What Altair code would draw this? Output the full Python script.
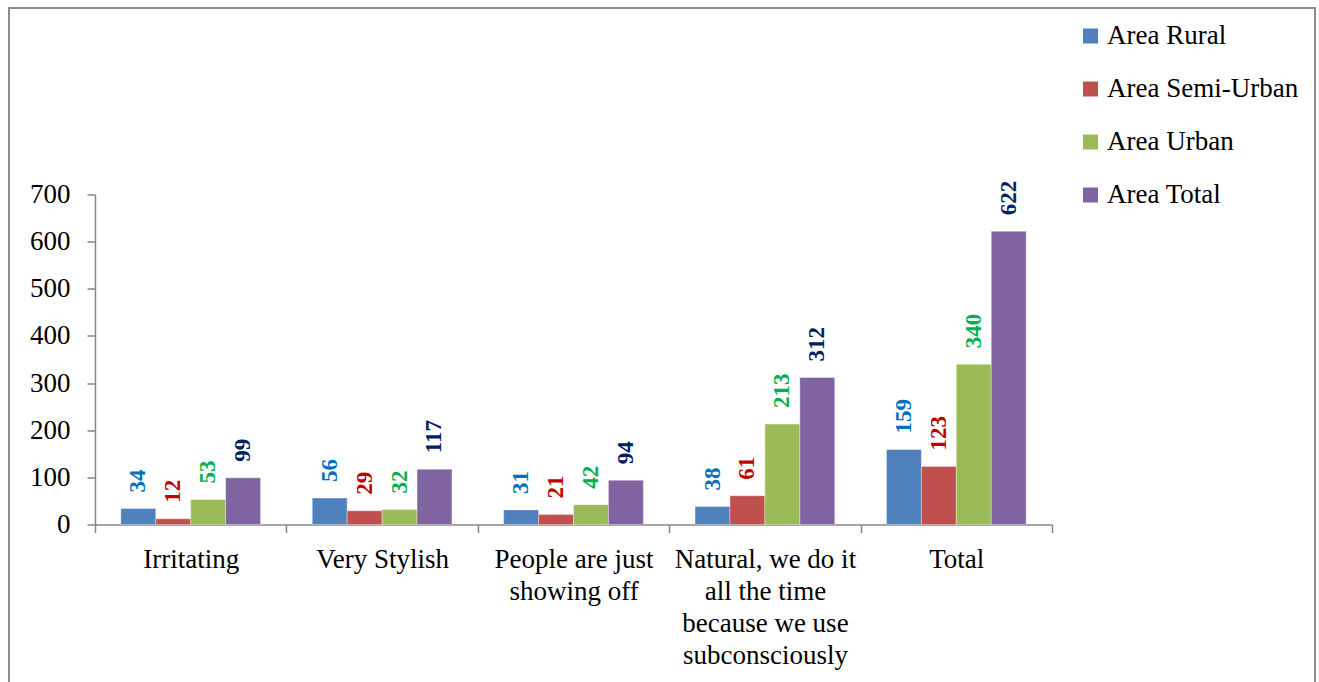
import altair as alt
import pandas as pd

# Response categories (line breaks mark the wrapped axis labels)
categories = [
    "Irritating",
    "Very Stylish",
    "People are just\nshowing off",
    "Natural, we do it\nall the time\nbecause we use\nsubconsciously",
    "Total",
]
series = ["Area Rural", "Area Semi-Urban", "Area Urban", "Area Total"]

rural = [34, 56, 31, 38, 159]
semi_urban = [12, 29, 21, 61, 123]
urban = [53, 32, 42, 213, 340]
total = [99, 117, 94, 312, 622]

bar_colors = ["#4F81BD", "#C0504D", "#9BBB59", "#8064A2"]
label_colors = ["#0070C0", "#C00000", "#00B050", "#002060"]

rows = []
for name, vals, lc in zip(series, [rural, semi_urban, urban, total], label_colors):
    for cat, v in zip(categories, vals):
        rows.append({"category": cat, "series": name, "value": v, "labelColor": lc})
df = pd.DataFrame(rows)

FONT = "Liberation Serif"
W, H = 957, 330
PAD_L, PAD_T = 95, 194.5
TOTAL_W, TOTAL_H = 1319, 682

x_enc = alt.X(
    "category:N",
    sort=categories,
    scale=alt.Scale(paddingInner=0, paddingOuter=0),
    axis=alt.Axis(
        title=None,
        labelAngle=0,
        labelExpr="isValid(datum.value) ? split(datum.value, '\\n') : ''",
        labelFont=FONT,
        labelFontSize=27,
        labelColor="#000000",
        labelLineHeight=32,
        labelBaseline="top",
        labelPadding=14,
        labelLimit=0,
        tickBand="extent",
        tickSize=8,
        tickColor="#868686",
        tickWidth=1.5,
        domainColor="#868686",
        domainWidth=1.5,
        grid=False,
    ),
)
xoff_enc = alt.XOffset(
    "series:N", sort=series, scale=alt.Scale(paddingOuter=0.74, paddingInner=0)
)
y_enc = alt.Y(
    "value:Q",
    scale=alt.Scale(domain=[0, 700], nice=False),
    axis=alt.Axis(
        title=None,
        values=[0, 100, 200, 300, 400, 500, 600, 700],
        labelFont=FONT,
        labelFontSize=27,
        labelColor="#000000",
        labelPadding=17,
        tickSize=8,
        tickColor="#868686",
        tickWidth=1.5,
        domainColor="#868686",
        domainWidth=1.5,
        grid=False,
    ),
)

base = alt.Chart(df)

bars = base.mark_bar(stroke="#FFFFFF", strokeWidth=0.6, strokeOpacity=0.6).encode(
    x=x_enc,
    xOffset=xoff_enc,
    y=y_enc,
    color=alt.Color(
        "series:N",
        sort=series,
        scale=alt.Scale(domain=series, range=bar_colors),
        legend=alt.Legend(
            title=None,
            orient="none",
            legendX=982,
            legendY=-172,
            symbolType="square",
            symbolSize=225,
            symbolStrokeWidth=0,
            labelFont=FONT,
            labelFontSize=27,
            labelColor="#000000",
            labelOffset=3,
            labelLimit=400,
            rowPadding=25,
            padding=0,
        ),
    ),
)

labels = base.mark_text(
    angle=270,
    align="left",
    baseline="middle",
    dx=16,
    font=FONT,
    fontSize=23,
    fontWeight="bold",
).encode(
    x=alt.X("category:N", sort=categories),
    xOffset=alt.XOffset("series:N", sort=series),
    y=alt.Y("value:Q"),
    text=alt.Text("value:Q"),
    color=alt.Color("labelColor:N", scale=None, legend=None),
)

# Outer frame around the whole figure
frame = alt.Chart(pd.DataFrame({"k": [0]})).mark_rect(
    filled=False, stroke="#8C8C8C", strokeWidth=2
).encode(
    x=alt.value(9 - PAD_L),
    x2=alt.value(1315 - PAD_L),
    y=alt.value(8 - PAD_T),
    y2=alt.value(TOTAL_H + 20 - PAD_T),
)

chart = (
    alt.layer(frame, bars, labels)
    .resolve_scale(color="independent")
    .properties(
        width=W,
        height=H,
        autosize=alt.AutoSizeParams(type="none"),
        padding={
            "left": PAD_L,
            "top": PAD_T,
            "right": TOTAL_W - PAD_L - W,
            "bottom": TOTAL_H - PAD_T - H,
        },
        background="#FFFFFF",
    )
    .configure_view(stroke=None)
)

chart.save("out.html", embed_options={"renderer": "svg", "actions": False})
